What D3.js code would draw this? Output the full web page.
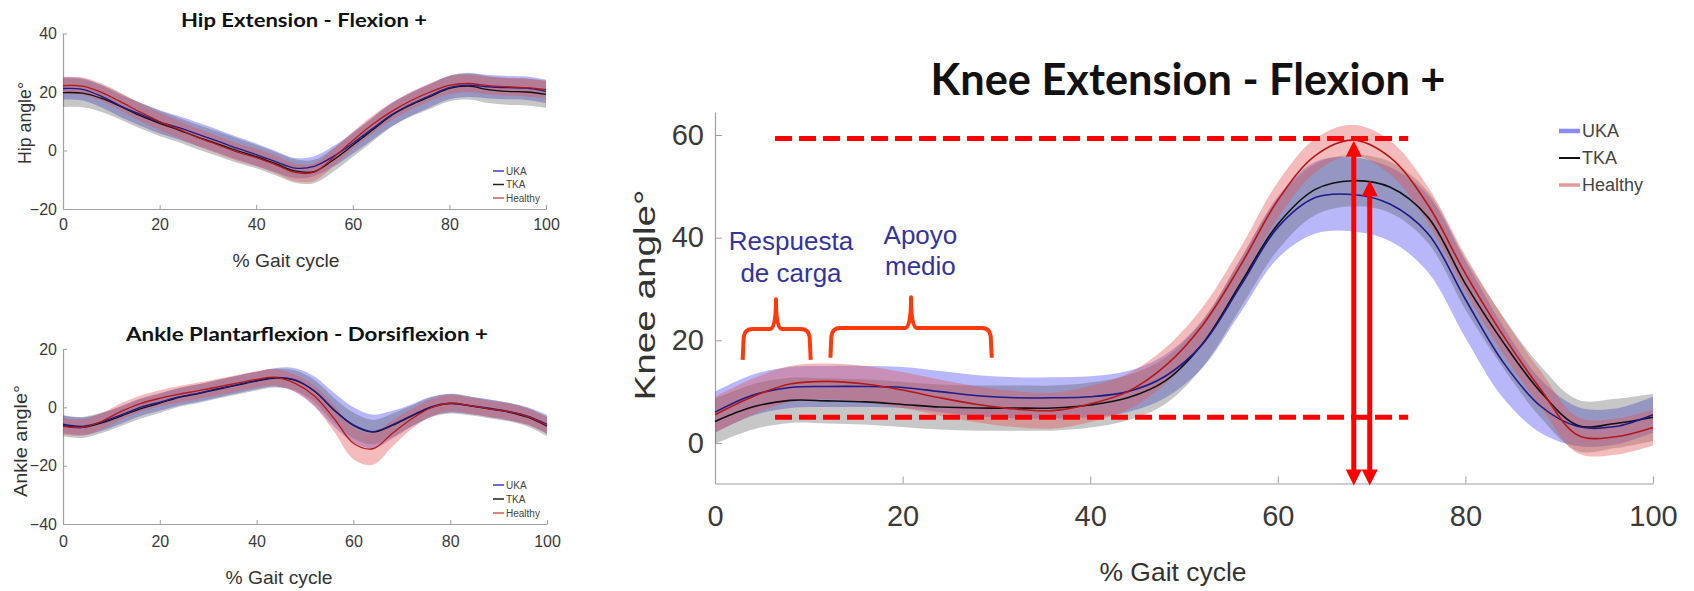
<!DOCTYPE html>
<html>
<head>
<meta charset="utf-8">
<script src="https://cdn.jsdelivr.net/npm/d3@7"></script>
<style>
  body { margin: 0; background: #fff; }
  svg { display: block; }
</style>
</head>
<body>
<div id="chart-container"></div>
<script>
// % of the gait cycle, shared by the three panels
const gaitPct = [0, 4, 8, 12, 16, 20, 24, 28, 32, 36, 40, 44, 48, 52, 56, 60, 64, 68, 72, 76, 80, 84, 88, 92, 96, 100];
const xTicks = [0, 20, 40, 60, 80, 100];
const groups = ["UKA", "TKA", "Healthy"];

// hip (deg)
const hipUKA     = [21.2, 20.9, 18.5, 15.2, 12.4, 9.8, 7.8, 5.5, 3.2, 0.8, -1.4, -3.8, -6.0, -5.4, -2.0, 2.5, 7.4, 12.2, 15.8, 18.8, 21.5, 22.3, 21.8, 21.5, 21.3, 20.2];
const hipTKA     = [19.8, 19.6, 17.8, 15.0, 11.9, 9.3, 7.0, 4.5, 2.3, 0.0, -2.1, -4.5, -7.0, -7.2, -3.2, 1.8, 6.9, 12.0, 15.6, 18.4, 21.2, 22.0, 20.8, 20.2, 20.0, 19.2];
const hipHealthy = [22.2, 22.0, 19.9, 16.6, 13.1, 9.9, 7.2, 4.4, 2.0, -0.5, -2.4, -4.8, -7.5, -7.4, -2.4, 3.4, 8.8, 13.3, 17.0, 20.0, 22.3, 22.9, 22.2, 21.8, 21.5, 20.8];
const hipUKAsd     = [3.8, 3.8, 3.8, 3.8, 3.9, 4.0, 4.0, 4.0, 4.0, 3.9, 3.8, 3.6, 3.4, 3.4, 3.5, 3.6, 3.8, 4.0, 4.0, 4.0, 4.0, 4.0, 4.0, 4.0, 4.0, 4.0];
const hipTKAsd     = [5.0, 4.8, 4.6, 4.5, 4.4, 4.3, 4.2, 4.2, 4.2, 4.2, 4.0, 4.0, 4.0, 4.0, 4.0, 4.0, 4.0, 4.0, 4.0, 4.2, 4.4, 4.6, 4.6, 4.6, 4.6, 4.6];
const hipHealthysd = [3.0, 3.0, 3.0, 3.0, 3.0, 3.0, 3.0, 3.0, 3.0, 3.0, 3.0, 3.0, 3.0, 3.0, 3.0, 3.0, 3.0, 3.0, 3.0, 3.0, 3.0, 3.0, 3.0, 3.0, 3.0, 3.0];

// ankle (deg)
const ankleUKA     = [-5.8, -6.5, -5.0, -2.6, 0.0, 1.8, 3.6, 4.9, 6.4, 7.8, 9.2, 10.3, 9.4, 5.5, -0.8, -6.0, -8.3, -6.0, -2.8, 0.2, 1.4, 0.7, -0.3, -1.4, -3.0, -5.8];
const ankleTKA     = [-6.3, -6.9, -5.3, -3.0, -0.5, 1.4, 3.4, 4.7, 6.2, 7.6, 9.0, 10.0, 9.2, 5.5, -1.0, -6.2, -8.5, -6.2, -3.0, 0.0, 1.3, 0.5, -0.5, -1.6, -3.4, -6.5];
const ankleHealthy = [-6.5, -6.9, -4.8, -1.4, 1.3, 3.1, 4.5, 5.7, 7.0, 8.3, 9.6, 10.3, 8.2, 3.8, -3.8, -12.3, -14.2, -9.0, -4.0, -0.2, 1.4, 0.6, -0.5, -1.5, -3.2, -6.2];
const ankleUKAsd     = [3.0, 3.0, 3.0, 3.0, 3.0, 3.0, 3.0, 3.0, 3.0, 3.0, 3.0, 3.2, 4.0, 5.0, 5.8, 6.0, 5.8, 4.8, 3.8, 3.4, 3.2, 3.0, 3.0, 3.0, 3.0, 3.2];
const ankleTKAsd     = [3.6, 3.6, 3.5, 3.4, 3.4, 3.3, 3.2, 3.2, 3.2, 3.2, 3.2, 3.2, 3.4, 3.8, 4.2, 4.4, 4.2, 4.0, 3.6, 3.4, 3.4, 3.2, 3.2, 3.2, 3.2, 3.4];
const ankleHealthysd = [2.8, 2.8, 2.8, 2.8, 2.8, 2.8, 2.8, 2.8, 2.8, 2.8, 2.8, 2.8, 3.0, 3.6, 4.5, 5.5, 5.5, 4.5, 3.4, 3.0, 2.8, 2.8, 2.8, 2.8, 2.8, 2.8];

// knee (deg)
const kneeUKA     = [6.0, 9.3, 10.8, 11.0, 11.0, 10.8, 10.0, 9.2, 8.8, 8.8, 9.0, 10.0, 13.0, 19.3, 30.5, 42.0, 47.8, 48.4, 46.5, 40.8, 28.0, 15.8, 7.2, 3.2, 3.2, 5.5];
const kneeTKA     = [4.2, 7.0, 8.3, 8.2, 8.0, 7.5, 7.0, 6.8, 6.8, 6.8, 7.4, 8.8, 12.1, 19.4, 31.0, 42.6, 49.4, 51.1, 49.8, 44.0, 31.0, 19.7, 10.0, 3.4, 3.8, 5.0];
const kneeHealthy = [5.5, 9.0, 11.5, 12.0, 11.5, 10.3, 8.8, 7.5, 6.6, 6.3, 7.6, 10.0, 15.0, 23.0, 34.5, 47.3, 56.0, 59.0, 55.6, 46.4, 33.0, 21.0, 10.5, 1.5, 1.2, 3.0];
const kneeUKAsd     = [4.0, 4.0, 4.0, 4.0, 4.0, 4.0, 4.0, 4.0, 4.0, 4.0, 4.0, 4.0, 4.2, 4.6, 5.2, 6.0, 7.0, 7.2, 7.2, 7.5, 7.5, 7.0, 5.2, 3.8, 3.5, 3.5];
const kneeTKAsd     = [4.4, 4.4, 4.4, 4.4, 4.4, 4.4, 4.4, 4.4, 4.4, 4.4, 4.4, 4.4, 4.5, 4.6, 4.8, 5.0, 5.0, 5.0, 5.0, 5.0, 5.0, 5.0, 5.0, 5.0, 4.8, 4.6];
const kneeHealthysd = [3.5, 3.5, 3.5, 3.5, 3.5, 3.5, 3.5, 3.5, 3.5, 3.5, 3.5, 3.5, 3.5, 3.5, 3.5, 3.5, 3.3, 3.0, 3.3, 3.5, 3.5, 3.5, 3.5, 3.5, 3.5, 3.5];

// knee annotations (gait %, deg)
const refLinesY = [59.3, 5.0];
const refLinesX = [6.4, 73.9];
const arrowX = [68.1, 69.8];
const arrowTop = [58.9, 51.2];
const arrowBottom = -8.3;
const braceLeft = [2.95, 12.3];
const braceRight = [10.2, 29.5];
const braceMid = [6.5, 20.9];
const braceBase = [16.2, 16.6];
const braceShoulder = [22.2, 22.4];
const braceTip = [28.0, 28.4];
const phaseLabels = [["Respuesta", "de carga"], ["Apoyo", "medio"]];
const phaseLabelX = [8.1, 21.9];
const phaseLabelY = [[37.6, 31.4], [38.8, 32.7]];

const bandColor = { UKA: "rgba(95,95,245,0.45)", TKA: "rgba(80,80,80,0.32)", Healthy: "rgba(225,85,85,0.40)" };
const lineColor = { UKA: "#1c1c8a", TKA: "#111", Healthy: "#b41818" };
const axisColor = "#a0a0a0";
const labelFont = "'Liberation Sans', Arial, sans-serif";
const titleFont = "Lato, 'Open Sans', sans-serif";

const W = 1694, H = 591;
const svg = d3.select("#chart-container")
  .append("svg")
    .attr("width", W)
    .attr("height", H);
svg.append("rect").attr("width", W).attr("height", H).attr("fill", "#fff");

function rows(means, sds) {
  return gaitPct.map((p, i) => ({ p: p, m: means[i], sd: sds[i] }));
}

function drawPanel(cfg) {
  const x = d3.scaleLinear().domain([0, 100]).range(cfg.xRange);
  const y = d3.scaleLinear().domain(cfg.yDomain).range(cfg.yRange);
  const g = svg.append("g");

  // x axis
  const gx = g.append("g")
    .attr("transform", `translate(0,${cfg.yRange[0]})`)
    .call(d3.axisBottom(x).tickValues(xTicks).tickSizeInner(-cfg.tick).tickSizeOuter(0).tickPadding(cfg.xPad));
  // y axis
  const gy = g.append("g")
    .attr("transform", `translate(${cfg.xRange[0]},0)`)
    .call(d3.axisLeft(y).tickValues(cfg.yTicks).tickSizeInner(-cfg.tick).tickSizeOuter(0).tickPadding(cfg.yPad));
  [gx, gy].forEach(a => {
    a.attr("font-family", labelFont).attr("font-size", cfg.tickFont);
    a.select(".domain").attr("stroke", axisColor).attr("stroke-width", 1.2);
    a.selectAll(".tick line").attr("stroke", axisColor);
    a.selectAll(".tick text").attr("fill", "#3a3a3a");
  });

  const area = d3.area()
    .x(d => x(d.p))
    .y0(d => y(d.m - d.sd))
    .y1(d => y(d.m + d.sd))
    .curve(d3.curveCatmullRom);
  const line = d3.line()
    .x(d => x(d.p))
    .y(d => y(d.m))
    .curve(d3.curveCatmullRom);

  groups.forEach(k => {
    g.append("path")
      .datum(rows(cfg.data[k], cfg.sd[k]))
      .attr("fill", bandColor[k])
      .attr("d", area);
  });
  ["TKA", "UKA", "Healthy"].forEach(k => {
    g.append("path")
      .datum(rows(cfg.data[k], cfg.sd[k]))
      .attr("fill", "none")
      .attr("stroke", lineColor[k])
      .attr("stroke-width", cfg.lineW)
      .attr("d", line);
  });

  // title
  g.append("text")
    .attr("x", cfg.title.x)
    .attr("y", cfg.title.y)
    .attr("text-anchor", "middle")
    .attr("textLength", cfg.title.len)
    .attr("lengthAdjust", "spacingAndGlyphs")
    .style("font-family", titleFont)
    .style("font-weight", "bold")
    .style("font-size", cfg.title.size + "px")
    .style("fill", "#111")
    .text(cfg.title.text);

  // axis labels
  g.append("text")
    .attr("x", cfg.xLabel.x)
    .attr("y", cfg.xLabel.y)
    .attr("text-anchor", "middle")
    .attr("textLength", cfg.xLabel.len)
    .attr("lengthAdjust", "spacingAndGlyphs")
    .style("font-family", labelFont)
    .style("font-size", cfg.xLabel.size + "px")
    .style("fill", "#333")
    .text("% Gait cycle");

  g.append("text")
    .attr("transform", `translate(${cfg.yLabel.x},${cfg.yLabel.y}) rotate(-90)`)
    .attr("text-anchor", "middle")
    .attr("textLength", cfg.yLabel.len)
    .attr("lengthAdjust", "spacingAndGlyphs")
    .style("font-family", labelFont)
    .style("font-size", cfg.yLabel.size + "px")
    .style("fill", "#333")
    .text(cfg.yLabel.text);

  // legend
  const lg = cfg.legend;
  groups.forEach((k, i) => {
    const ly = lg.y + i * lg.step;
    g.append("line")
      .attr("x1", lg.x).attr("x2", lg.x + lg.w)
      .attr("y1", ly).attr("y2", ly)
      .attr("stroke", lg.colors[k])
      .attr("stroke-width", lg.widths[k]);
    g.append("text")
      .attr("x", lg.x + lg.w + 2)
      .attr("y", ly)
      .attr("dy", "0.35em")
      .style("font-family", labelFont)
      .style("font-size", lg.size + "px")
      .style("fill", "#444")
      .text(k);
  });

  return { x, y, g };
}

const smallLegendColors = { UKA: "#3c3cd0", TKA: "#222", Healthy: "#d65a5a" };
const smallLegendWidths = { UKA: 1.5, TKA: 1.5, Healthy: 1.5 };

drawPanel({
  xRange: [63, 546], yDomain: [-20, 40], yRange: [209, 33.5], yTicks: [-20, 0, 20, 40],
  tick: 4, xPad: 10, yPad: 6, tickFont: 16, lineW: 1.3,
  data: { UKA: hipUKA, TKA: hipTKA, Healthy: hipHealthy },
  sd: { UKA: hipUKAsd, TKA: hipTKAsd, Healthy: hipHealthysd },
  title: { text: "Hip Extension - Flexion +", x: 304, y: 27, size: 19, len: 246 },
  xLabel: { x: 286, y: 267, size: 19, len: 107 },
  yLabel: { text: "Hip angle°", x: 31, y: 123, size: 19, len: 82 },
  legend: { x: 493, y: 171, step: 13.5, w: 11, size: 10, colors: smallLegendColors, widths: smallLegendWidths }
});

drawPanel({
  xRange: [63, 547], yDomain: [-40, 20], yRange: [524, 349], yTicks: [-40, -20, 0, 20],
  tick: 4, xPad: 12, yPad: 6, tickFont: 16, lineW: 1.3,
  data: { UKA: ankleUKA, TKA: ankleTKA, Healthy: ankleHealthy },
  sd: { UKA: ankleUKAsd, TKA: ankleTKAsd, Healthy: ankleHealthysd },
  title: { text: "Ankle Plantarflexion - Dorsiflexion +", x: 307, y: 341, size: 19, len: 362 },
  xLabel: { x: 279, y: 584, size: 19, len: 107 },
  yLabel: { text: "Ankle angle°", x: 27, y: 441, size: 19, len: 112 },
  legend: { x: 493, y: 485, step: 14, w: 11, size: 10, colors: smallLegendColors, widths: smallLegendWidths }
});

const knee = drawPanel({
  xRange: [715, 1653], yDomain: [-7.9, 64.5], yRange: [483.5, 111.9], yTicks: [0, 20, 40, 60],
  tick: 7, xPad: 22, yPad: 11, tickFont: 29, lineW: 1.6,
  data: { UKA: kneeUKA, TKA: kneeTKA, Healthy: kneeHealthy },
  sd: { UKA: kneeUKAsd, TKA: kneeTKAsd, Healthy: kneeHealthysd },
  title: { text: "Knee Extension - Flexion +", x: 1188, y: 95, size: 44, len: 515 },
  xLabel: { x: 1173, y: 581, size: 25, len: 147 },
  yLabel: { text: "Knee angle°", x: 655, y: 295, size: 30, len: 211 },
  legend: { x: 1559, y: 131, step: 27, w: 21, size: 18,
    colors: { UKA: "#8a8af2", TKA: "#111", Healthy: "#e59a9a" },
    widths: { UKA: 4.5, TKA: 2, Healthy: 3.5 } }
});

// reference dashed lines (peak flexion / loading response)
const kx = knee.x, ky = knee.y, kg = knee.g;
refLinesY.forEach(v => {
  kg.append("line")
    .attr("x1", kx(refLinesX[0])).attr("x2", kx(refLinesX[1]))
    .attr("y1", ky(v)).attr("y2", ky(v))
    .attr("stroke", "#ff0000")
    .attr("stroke-width", 5)
    .attr("stroke-dasharray", "17,7");
});

// double headed arrows
arrowX.forEach((p, i) => {
  const ax = kx(p), yt = ky(arrowTop[i]), yb = ky(arrowBottom);
  const hw = 8, hl = 16;
  kg.append("line")
    .attr("x1", ax).attr("x2", ax)
    .attr("y1", yt + hl - 2).attr("y2", yb - hl + 2)
    .attr("stroke", "#ff0000")
    .attr("stroke-width", 5);
  kg.append("path")
    .attr("d", `M${ax},${yt} L${ax - hw},${yt + hl} L${ax + hw},${yt + hl} Z M${ax},${yb} L${ax - hw},${yb - hl} L${ax + hw},${yb - hl} Z`)
    .attr("fill", "#ff0000");
});

// braces over the stance sub-phases
braceLeft.forEach((l, i) => {
  const xl = kx(l), xr = kx(braceRight[i]), xm = kx(braceMid[i]);
  const yb = ky(braceBase[i]), ys = ky(braceShoulder[i]), yt = ky(braceTip[i]);
  const r = 8, r2 = 6;
  const d = `M${xl},${yb} L${xl + 1},${ys + r} Q${xl + 2},${ys} ${xl + r + 2},${ys}` +
    ` L${xm - r2},${ys} Q${xm},${ys} ${xm},${yt}` +
    ` Q${xm},${ys} ${xm + r2},${ys} L${xr - r - 2},${ys} Q${xr - 2},${ys} ${xr - 1},${ys + r} L${xr},${yb}`;
  kg.append("path")
    .attr("d", d)
    .attr("fill", "none")
    .attr("stroke", "#ff3a0a")
    .attr("stroke-width", 4)
    .attr("stroke-linejoin", "round");
});

phaseLabels.forEach((lines, i) => {
  lines.forEach((t, j) => {
    kg.append("text")
      .attr("x", kx(phaseLabelX[i]))
      .attr("y", ky(phaseLabelY[i][j]))
      .attr("text-anchor", "middle")
      .style("font-family", labelFont)
      .style("font-size", "26px")
      .style("fill", "#34349c")
      .text(t);
  });
});
</script>
</body>
</html>
